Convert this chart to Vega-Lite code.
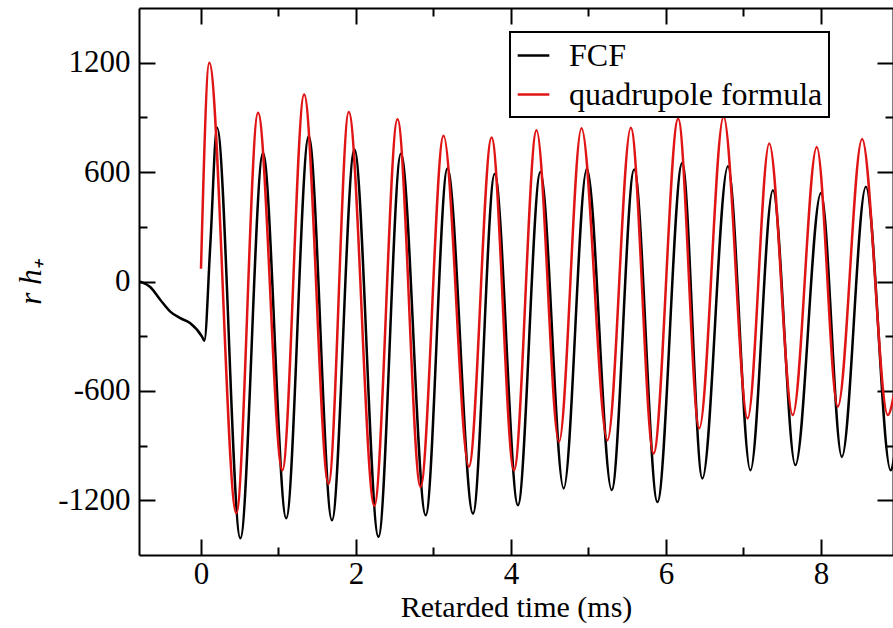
{
  "$schema": "https://vega.github.io/schema/vega-lite/v6.json",
  "width": 754,
  "height": 547,
  "autosize": {"type": "none"},
  "padding": {"left": 139, "top": 8, "right": 0, "bottom": 73},
  "config": {
    "view": {"stroke": null},
    "font": "Liberation Serif",
    "axis": {
      "grid": false,
      "domainColor": "black",
      "domainWidth": 2,
      "tickColor": "black",
      "tickWidth": 2,
      "labelColor": "black",
      "titleColor": "black",
      "labelFont": "Liberation Serif",
      "titleFont": "Liberation Serif",
      "labelFontSize": 31,
      "titleFontSize": 30,
      "titleFontWeight": "normal",
      "labelFlush": false,
      "labelOverlap": false
    },
    "legend": {
      "strokeWidth": 2
    }
  },
  "datasets": {
    "w": [
      {"s": "FCF", "t": -0.8, "v": 0},
      {"s": "FCF", "t": -0.76, "v": -5},
      {"s": "FCF", "t": -0.655, "v": -30},
      {"s": "FCF", "t": -0.526, "v": -100},
      {"s": "FCF", "t": -0.397, "v": -165},
      {"s": "FCF", "t": -0.267, "v": -201},
      {"s": "FCF", "t": -0.138, "v": -229},
      {"s": "FCF", "t": 0.013, "v": -302},
      {"s": "FCF", "t": 0.043, "v": -325},
      {"s": "FCF", "t": 0.12, "v": 200},
      {"s": "FCF", "t": 0.207, "v": 843},
      {"s": "FCF", "t": 0.508, "v": -1408},
      {"s": "FCF", "t": 0.80, "v": 705},
      {"s": "FCF", "t": 1.10, "v": -1298},
      {"s": "FCF", "t": 1.39, "v": 797},
      {"s": "FCF", "t": 1.69, "v": -1310},
      {"s": "FCF", "t": 1.98, "v": 724},
      {"s": "FCF", "t": 2.29, "v": -1400},
      {"s": "FCF", "t": 2.58, "v": 700},
      {"s": "FCF", "t": 2.90, "v": -1282},
      {"s": "FCF", "t": 3.18, "v": 620},
      {"s": "FCF", "t": 3.51, "v": -1273},
      {"s": "FCF", "t": 3.79, "v": 590},
      {"s": "FCF", "t": 4.09, "v": -1227},
      {"s": "FCF", "t": 4.38, "v": 600},
      {"s": "FCF", "t": 4.68, "v": -1135},
      {"s": "FCF", "t": 4.98, "v": 620},
      {"s": "FCF", "t": 5.30, "v": -1144},
      {"s": "FCF", "t": 5.59, "v": 614},
      {"s": "FCF", "t": 5.89, "v": -1209},
      {"s": "FCF", "t": 6.21, "v": 650},
      {"s": "FCF", "t": 6.47, "v": -1080},
      {"s": "FCF", "t": 6.80, "v": 632},
      {"s": "FCF", "t": 7.09, "v": -1035},
      {"s": "FCF", "t": 7.38, "v": 500},
      {"s": "FCF", "t": 7.67, "v": -1007},
      {"s": "FCF", "t": 8.00, "v": 486},
      {"s": "FCF", "t": 8.27, "v": -962},
      {"s": "FCF", "t": 8.58, "v": 519},
      {"s": "FCF", "t": 8.90, "v": -1035},
      {"s": "FCF", "t": 8.95, "v": -950},
      {"s": "quadrupole formula", "t": 0.0, "v": 70},
      {"s": "quadrupole formula", "t": 0.107, "v": 1200},
      {"s": "quadrupole formula", "t": 0.456, "v": -1271},
      {"s": "quadrupole formula", "t": 0.736, "v": 925},
      {"s": "quadrupole formula", "t": 1.05, "v": -1035},
      {"s": "quadrupole formula", "t": 1.331, "v": 1026},
      {"s": "quadrupole formula", "t": 1.646, "v": -1110},
      {"s": "quadrupole formula", "t": 1.907, "v": 929},
      {"s": "quadrupole formula", "t": 2.237, "v": -1230},
      {"s": "quadrupole formula", "t": 2.536, "v": 890},
      {"s": "quadrupole formula", "t": 2.833, "v": -1126},
      {"s": "quadrupole formula", "t": 3.13, "v": 800},
      {"s": "quadrupole formula", "t": 3.457, "v": -1016},
      {"s": "quadrupole formula", "t": 3.75, "v": 790},
      {"s": "quadrupole formula", "t": 4.039, "v": -1035},
      {"s": "quadrupole formula", "t": 4.33, "v": 830},
      {"s": "quadrupole formula", "t": 4.62, "v": -879},
      {"s": "quadrupole formula", "t": 4.91, "v": 840},
      {"s": "quadrupole formula", "t": 5.245, "v": -870},
      {"s": "quadrupole formula", "t": 5.547, "v": 843},
      {"s": "quadrupole formula", "t": 5.84, "v": -943},
      {"s": "quadrupole formula", "t": 6.158, "v": 892},
      {"s": "quadrupole formula", "t": 6.43, "v": -805},
      {"s": "quadrupole formula", "t": 6.744, "v": 903},
      {"s": "quadrupole formula", "t": 7.054, "v": -751},
      {"s": "quadrupole formula", "t": 7.333, "v": 757},
      {"s": "quadrupole formula", "t": 7.636, "v": -732},
      {"s": "quadrupole formula", "t": 7.946, "v": 738},
      {"s": "quadrupole formula", "t": 8.217, "v": -687},
      {"s": "quadrupole formula", "t": 8.531, "v": 782},
      {"s": "quadrupole formula", "t": 8.863, "v": -732},
      {"s": "quadrupole formula", "t": 8.95, "v": -600}
    ]
  },
  "data": {"name": "w"},
  "layer": [
    {
      "mark": {"type": "line", "clip": true, "strokeWidth": 2.5, "interpolate": "monotone"},
      "encoding": {
        "x": {
          "field": "t", "type": "quantitative",
          "scale": {"domain": [-0.8, 8.93], "nice": false, "zero": false},
          "axis": {"orient": "bottom", "values": [0, 2, 4, 6, 8], "tickSize": -16, "labelPadding": 20, "title": "Retarded time (ms)", "titlePadding": 3, "labelExpr": "'' + datum.value"}
        },
        "y": {
          "field": "v", "type": "quantitative",
          "scale": {"domain": [-1500, 1500], "nice": false, "zero": false},
          "axis": {"orient": "left", "values": [-1200, -600, 0, 600, 1200], "tickSize": -16, "labelPadding": 25, "title": "r h₊", "titleFontStyle": "italic", "titleFontSize": 31, "titlePadding": 10, "labelExpr": "'' + datum.value"}
        },
        "color": {
          "field": "s", "type": "nominal",
          "scale": {"domain": ["FCF", "quadrupole formula"], "range": ["#000000", "#e01414"]},
          "legend": {
            "title": null, "orient": "none", "legendX": 371, "legendY": 24,
            "strokeColor": "black", "fillColor": "white", "padding": 6,
            "labelFont": "Liberation Serif", "labelFontSize": 32, "labelColor": "black", "labelLimit": 500,
            "symbolType": "stroke", "symbolStrokeWidth": 2.5, "symbolSize": 1000,
            "labelOffset": 18, "rowPadding": 5
          }
        }
      }
    },
    {
      "mark": {"type": "point", "opacity": 0},
      "encoding": {
        "x": {"field": "t", "type": "quantitative", "axis": {"orient": "bottom", "values": [1, 3, 5, 7], "tickSize": -8, "labels": false, "domain": false, "title": null}},
        "y": {"field": "v", "type": "quantitative", "axis": {"orient": "left", "values": [-900, -300, 300, 900], "tickSize": -8, "labels": false, "domain": false, "title": null}}
      }
    },
    {
      "mark": {"type": "point", "opacity": 0},
      "encoding": {
        "x": {"field": "t", "type": "quantitative", "axis": {"orient": "top", "values": [0, 2, 4, 6, 8], "tickSize": -16, "labels": false, "title": null}},
        "y": {"field": "v", "type": "quantitative", "axis": {"orient": "right", "values": [-1200, -600, 0, 600, 1200], "tickSize": -16, "labels": false, "title": null}}
      }
    },
    {
      "mark": {"type": "point", "opacity": 0},
      "encoding": {
        "x": {"field": "t", "type": "quantitative", "axis": {"orient": "top", "values": [1, 3, 5, 7], "tickSize": -8, "labels": false, "domain": false, "title": null}},
        "y": {"field": "v", "type": "quantitative", "axis": {"orient": "right", "values": [-900, -300, 300, 900], "tickSize": -8, "labels": false, "domain": false, "title": null}}
      }
    }
  ],
  "resolve": {"axis": {"x": "independent", "y": "independent"}}
}
